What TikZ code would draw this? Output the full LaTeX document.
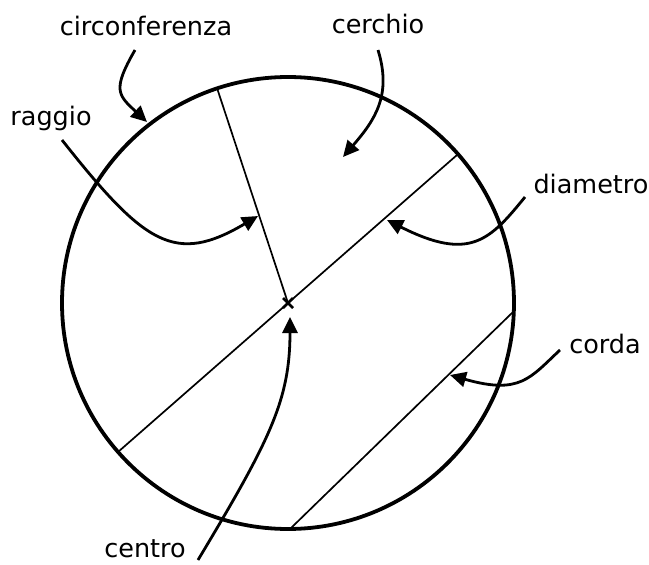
\documentclass[tikz,border=0pt]{standalone}
\usepackage{fontspec}
\setmainfont{DejaVu Sans}
\usetikzlibrary{arrows.meta}

\tikzset{
  tag/.style={font=\fontsize{25.5}{30}\selectfont, inner sep=0pt, anchor=base},
  callout/.style={line width=2.8pt, -{Triangle[length=16pt,width=15pt]}},
  segment/.style={line width=1.7pt},
}

\begin{document}
\begin{tikzpicture}[x=1pt, y=-1pt]
    \useasboundingbox (0,0) rectangle (649,565);

    % Circle and its centre
    \coordinate (O) at (288,303);
    \draw[line width=3.8pt] (O) circle (226);
    \draw[line width=2.6pt] (O) +(-5,-5) -- +(5,5) (O) +(-5,5) -- +(5,-5);

    % Points on the circumference
    \coordinate (R)  at (217,88);
    \coordinate (D1) at (118,452);
    \coordinate (D2) at (457,155);
    \coordinate (C1) at (290,529);
    \coordinate (C2) at (513,312);

    % Radius, diameter, chord
    \draw[segment] (O) -- (R);
    \draw[segment] (D1) -- (D2);
    \draw[segment] (C1) -- (C2);

    % Labels
    \node[tag] (circ)   at (146,35)  {circonferenza};
    \node[tag] (cerch)  at (378,33)  {cerchio};
    \node[tag] (ragg)   at (51,125)  {raggio};
    \node[tag] (diam)   at (591,193) {diametro};
    \node[tag] (corda)  at (605,353) {corda};
    \node[tag] (centro) at (145,557) {centro};

    % Callout ends
    \coordinate (circ-a)   at (135,50);   \coordinate (circ-b)   at (147,122);
    \coordinate (cerch-a)  at (378,50);   \coordinate (cerch-b)  at (343,157);
    \coordinate (ragg-a)   at (62,140);   \coordinate (ragg-b)   at (258,216);
    \coordinate (diam-a)   at (525,197);  \coordinate (diam-b)   at (387,220);
    \coordinate (corda-a)  at (560,350);  \coordinate (corda-b)  at (450,375);
    \coordinate (centro-a) at (198,560);  \coordinate (centro-b) at (290,317);

    % Curved arrows
    \draw[callout] (circ-a) .. controls (112,90) and (118,95) .. (circ-b);
    \draw[callout] (cerch-a) .. controls (392,95) and (375,120) .. (cerch-b);
    \draw[callout] (ragg-a) .. controls (145,245) and (175,265) .. (ragg-b);
    \draw[callout] (diam-a) .. controls (490,240) and (470,262) .. (diam-b);
    \draw[callout] (corda-a) .. controls (530,378) and (520,395) .. (corda-b);
    \draw[callout] (centro-a) .. controls (270,440) and (290,400) .. (centro-b);
\end{tikzpicture}
\end{document}
